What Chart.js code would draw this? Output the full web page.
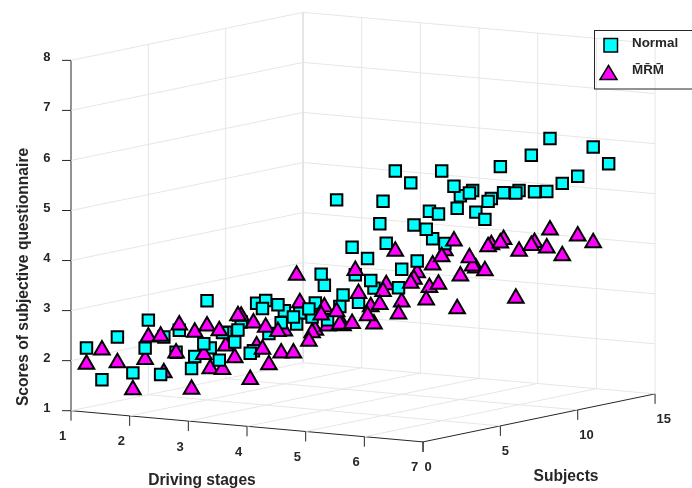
<!DOCTYPE html>
<html>
<head>
<meta charset="utf-8">
<script src="https://cdn.jsdelivr.net/npm/chart.js@4"></script>
<style>
html, body { margin: 0; padding: 0; background: #fff; }
canvas { display: block; }
</style>
</head>
<body>
<canvas id="chart" width="692" height="488"></canvas>
<script>
const stageTicks = [1, 2, 3, 4, 5, 6, 7];
const subjectTicks = [0, 5, 10, 15];
const scoreTicks = [1, 2, 3, 4, 5, 6, 7, 8];
const subjects = [1, 2, 3, 4, 5, 6, 7, 8, 9, 10, 11, 12];
const seriesNames = ["Normal", "M\u0304R\u0304M\u0304"];

// one row per driving stage, one column per subject
const normalScores = [
    [2.19, 1.49, 2.28, 1.50, 2.49, 2.09, 2.16, 1.57, 1.68, 1.93, 2.07, 2.38],
    [2.29, 1.70, 2.08, 1.69, 2.98, 2.28, 2.27, 1.79, 2.07, 2.46, 2.35, 2.49],
    [2.48, 2.09, 2.39, 2.10, 3.09, 2.58, 2.49, 2.57, 2.45, 2.88, 2.67, 2.89],
    [3.29, 3.30, 2.99, 3.09, 3.50, 3.01, 3.58, 3.40, 4.08, 3.50, 3.60, 3.98],
    [4.08, 5.50, 4.49, 4.20, 5.28, 3.49, 4.68, 4.89, 4.18, 5.07, 4.68, 4.89],
    [5.19, 6.18, 5.88, 4.89, 5.99, 5.18, 5.47, 5.19, 5.30, 5.28, 5.19, 6.19],
    [5.49, 5.98, 5.78, 5.19, 6.18, 5.59, 6.28, 5.49, 5.59, 5.67, 6.19, 5.79],
];
const mrmScores = [
    [1.92, 2.14, 1.82, 1.22, 2.21, 1.43, 2.32, 2.11, 1.32, 1.71, 2.24, 1.58],
    [2.12, 2.52, 2.12, 1.33, 2.53, 1.60, 2.61, 2.40, 1.50, 2.11, 2.61, 2.00],
    [2.32, 2.73, 2.13, 1.63, 2.61, 2.03, 3.52, 2.31, 2.38, 2.32, 2.90, 2.23],
    [2.53, 2.82, 2.33, 2.50, 3.12, 2.71, 3.72, 2.93, 3.31, 2.90, 3.42, 3.51],
    [3.32, 3.32, 3.02, 3.11, 3.53, 3.02, 3.65, 3.42, 4.09, 3.52, 3.62, 4.02],
    [3.63, 4.63, 3.93, 3.53, 4.33, 3.23, 4.02, 4.34, 4.42, 4.12, 4.23, 4.42],
    [4.14, 4.94, 4.54, 4.22, 4.71, 3.54, 4.53, 4.42, 4.20, 4.53, 4.33, null],
];

const W = 692, H = 488;
const INK = "#262626";
const GRID = "#e6e6e6";
const GRID_BACK = "#cccccc";

// oblique view of the 3D box onto the page
function project(stage, subject, score) {
    return {
        x: 71 + 58.67 * (stage - 1) + 15.47 * subject,
        y: 410.7 + 5.2 * (stage - 1) - 3.2 * subject - 50.05 * (score - 1),
    };
}
// which marker is nearer the viewer
function depth(stage, subject, score) {
    return 37.8 * (stage - 1) - 23.6 * subject + 6.8 * (score - 1);
}

const firstStage = stageTicks[0], lastStage = stageTicks[stageTicks.length - 1];
const lastSubject = subjectTicks[subjectTicks.length - 1];
const minScore = scoreTicks[0], maxScore = scoreTicks[scoreTicks.length - 1];

const lineSets = [];
function addLine(points, color) {
    lineSets.push({
        data: points, showLine: true, borderColor: color, borderWidth: 1,
        pointRadius: 0, order: 2,
    });
}

// walls and floor
scoreTicks.forEach(z => addLine([
    project(firstStage, 0, z),
    project(firstStage, lastSubject, z),
    project(lastStage, lastSubject, z),
], GRID));
subjectTicks.slice(1).forEach(s => addLine([
    project(firstStage, s, minScore), project(firstStage, s, maxScore),
], s === lastSubject ? GRID_BACK : GRID));
stageTicks.slice(1).forEach(st => addLine([
    project(st, lastSubject, minScore), project(st, lastSubject, maxScore),
], GRID));
stageTicks.slice(1, -1).forEach(st => addLine([
    project(st, 0, minScore), project(st, lastSubject, minScore),
], GRID));
subjectTicks.slice(1, -1).forEach(s => addLine([
    project(firstStage, s, minScore), project(lastStage, s, minScore),
], GRID));

// axes
addLine([project(firstStage, 0, minScore), project(firstStage, 0, maxScore)], INK);
addLine([project(firstStage, 0, minScore), project(lastStage, 0, minScore), project(lastStage, lastSubject, minScore)], INK);

// both series go in one list, far markers first, so they overlap like the 3D plot
const markers = [];
function addMarkers(rows, kind) {
    rows.forEach((row, i) => row.forEach((score, j) => {
        if (score === null) return;
        const p = project(stageTicks[i], subjects[j], score);
        markers.push({
            x: p.x,
            y: kind === "triangle" ? p.y + 2.75 : p.y,
            kind: kind,
            d: depth(stageTicks[i], subjects[j], score),
        });
    }));
}
addMarkers(normalScores, "rect");
addMarkers(mrmScores, "triangle");
markers.sort((a, b) => a.d - b.d);

const markerSet = {
    data: markers,
    order: 1,
    pointBorderColor: "#000",
    pointBorderWidth: 2,
    pointStyle: markers.map(m => m.kind),
    pointRadius: markers.map(m => m.kind === "rect" ? 8.1 : 9),
    pointBackgroundColor: markers.map(m => m.kind === "rect" ? "#00ffff" : "#ff00ff"),
};

const labelPlugin = {
    id: "labels",
    afterDatasetsDraw(chart) {
        const ctx = chart.ctx;
        const px = p => ({
            x: chart.scales.x.getPixelForValue(p.x),
            y: chart.scales.y.getPixelForValue(p.y),
        });
        ctx.save();
        ctx.fillStyle = INK;
        ctx.strokeStyle = INK;
        ctx.lineWidth = 1;
        ctx.textBaseline = "middle";

        function tick(p, dx, dy) {
            ctx.beginPath();
            ctx.moveTo(p.x, p.y);
            ctx.lineTo(p.x + dx, p.y + dy);
            ctx.stroke();
        }

        ctx.font = "bold 13px 'Liberation Sans'";
        ctx.textAlign = "center";
        stageTicks.forEach(st => {
            const p = px(project(st, 0, minScore));
            tick(p, 0, 10);
            ctx.fillText(String(st), p.x - 8.3, p.y + 26);
        });
        ctx.textAlign = "left";
        subjectTicks.forEach(s => {
            const p = px(project(lastStage, s, minScore));
            tick(p, 0, 10);
            ctx.fillText(String(s), p.x + 1.5, p.y + 26);
        });
        ctx.textAlign = "right";
        scoreTicks.forEach(z => {
            const p = px(project(firstStage, 0, z));
            tick(p, -9, 0);
            ctx.fillText(String(z), p.x - 20.5, p.y - 2.5);
        });

        ctx.font = "bold 15.6px 'Liberation Sans'";
        ctx.textAlign = "center";
        ctx.textBaseline = "alphabetic";
        ctx.fillText("Driving stages", 202, 485);
        ctx.fillText("Subjects", 566, 481);
        ctx.save();
        ctx.translate(28, 277);
        ctx.rotate(-Math.PI / 2);
        ctx.fillText("Scores of subjective questionnaire", 0, 0);
        ctx.restore();
        ctx.textBaseline = "middle";

        // legend, open on the right where the page ends
        ctx.strokeRect(594.5, 30.5, 110, 58.5);
        ctx.lineWidth = 1.5;
        ctx.strokeStyle = "#000";
        ctx.fillStyle = "#00ffff";
        ctx.fillRect(604, 38.5, 13.5, 13.5);
        ctx.strokeRect(604, 38.5, 13.5, 13.5);
        ctx.fillStyle = "#ff00ff";
        ctx.beginPath();
        ctx.moveTo(608.5, 65.5);
        ctx.lineTo(617, 79.5);
        ctx.lineTo(600, 79.5);
        ctx.closePath();
        ctx.fill();
        ctx.stroke();
        ctx.fillStyle = INK;
        ctx.font = "bold 13.4px 'Liberation Sans'";
        ctx.textAlign = "left";
        ctx.fillText(seriesNames[0], 632, 43);
        ctx.fillText(seriesNames[1], 632, 70);
        ctx.restore();
    },
};

new Chart(document.getElementById("chart"), {
    type: "scatter",
    data: { datasets: [markerSet].concat(lineSets) },
    plugins: [labelPlugin],
    options: {
        responsive: false,
        animation: false,
        events: [],
        layout: { padding: 0, autoPadding: false },
        plugins: { legend: { display: false }, tooltip: { enabled: false } },
        scales: {
            x: { type: "linear", min: 0, max: W, display: false },
            y: { type: "linear", min: 0, max: H, reverse: true, display: false },
        },
    },
});
</script>
</body>
</html>
